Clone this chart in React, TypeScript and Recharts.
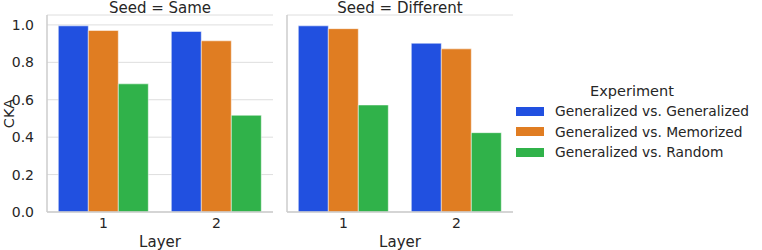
import { BarChart, Bar, XAxis, YAxis, CartesianGrid } from 'recharts';

const layers = ['1', '2'];
const experiments = [
  'Generalized vs. Generalized',
  'Generalized vs. Memorized',
  'Generalized vs. Random',
];
const colors = ['#2150e0', '#e07d22', '#30b24a'];
const sameSeed = [
  [0.995, 0.965],
  [0.97, 0.915],
  [0.685, 0.517],
];
const differentSeed = [
  [0.995, 0.902],
  [0.98, 0.872],
  [0.572, 0.424],
];
const yTicks = [0, 0.2, 0.4, 0.6, 0.8, 1.0];

const font = '"DejaVu Sans", sans-serif';
const ink = '#262626';

function toRows(values: number[][]) {
  return layers.map((layer, i) => {
    const row: Record<string, string | number> = { layer };
    experiments.forEach((e, j) => {
      row[e] = values[j][i];
    });
    return row;
  });
}

function Panel({
  title,
  values,
  left,
  showY,
}: {
  title: string;
  values: number[][];
  left: number;
  showY: boolean;
}) {
  const width = showY ? 280 : 240;
  const yWidth = showY ? 47 : 7;
  return (
    <div style={{ position: 'absolute', left, top: 0, width, height: 250 }}>
      <div
        style={{
          position: 'absolute',
          left: yWidth,
          width: width - yWidth - 7,
          top: 0,
          textAlign: 'center',
          fontSize: 15,
          lineHeight: '17px',
          color: ink,
        }}
      >
        {title}
      </div>
      <BarChart
        width={width}
        height={250}
        data={toRows(values)}
        margin={{ top: 15, right: 7, left: 0, bottom: 0 }}
        barCategoryGap="10%"
        barGap={0}
      >
        <CartesianGrid vertical={false} stroke="#dedede" strokeWidth={1} />
        <XAxis
          dataKey="layer"
          height={38}
          tickLine={false}
          axisLine={{ stroke: '#cccccc', strokeWidth: 1.5 }}
          tick={{ fill: ink, fontSize: 14, fontFamily: font }}
          tickMargin={0}
          label={{
            value: 'Layer',
            position: 'insideBottom',
            offset: 3,
            fill: ink,
            fontSize: 15,
            fontFamily: font,
          }}
        />
        <YAxis
          width={yWidth}
          domain={[0, 1.053]}
          ticks={yTicks}
          tickFormatter={(v: number) => v.toFixed(1)}
          tick={showY ? { fill: ink, fontSize: 14, fontFamily: font } : false}
          tickLine={false}
          tickMargin={7}
          axisLine={{ stroke: '#cccccc', strokeWidth: 1.5 }}
          label={
            showY
              ? {
                  value: 'CKA',
                  angle: -90,
                  position: 'insideLeft',
                  offset: 9,
                  fill: ink,
                  fontSize: 14.5,
                  fontFamily: font,
                  style: { textAnchor: 'middle' },
                }
              : undefined
          }
        />
        {experiments.map((e, j) => (
          <Bar
            key={e}
            dataKey={e}
            fill={colors[j]}
            stroke="#ffffff"
            strokeOpacity={0.5}
            strokeWidth={1}
            isAnimationActive={false}
          />
        ))}
      </BarChart>
    </div>
  );
}

export default function App() {
  return (
    <div
      style={{
        position: 'absolute',
        left: 0,
        top: 0,
        width: 762,
        height: 250,
        background: '#ffffff',
        fontFamily: font,
      }}
    >
      <Panel title="Seed = Same" values={sameSeed} left={0} showY />
      <Panel title="Seed = Different" values={differentSeed} left={280} showY={false} />
      <div style={{ position: 'absolute', left: 514, top: 83, color: ink, fontSize: 13.8 }}>
        <div style={{ textAlign: 'center', fontSize: 14.5, marginBottom: 2, width: 236 }}>
          Experiment
        </div>
        {experiments.map((e, j) => (
          <div
            key={e}
            style={{ display: 'flex', alignItems: 'center', height: 20.5 }}
          >
            <span
              style={{
                display: 'inline-block',
                width: 28,
                height: 9,
                background: colors[j],
                marginLeft: 2,
                marginRight: 11,
              }}
            />
            {e}
          </div>
        ))}
      </div>
    </div>
  );
}
